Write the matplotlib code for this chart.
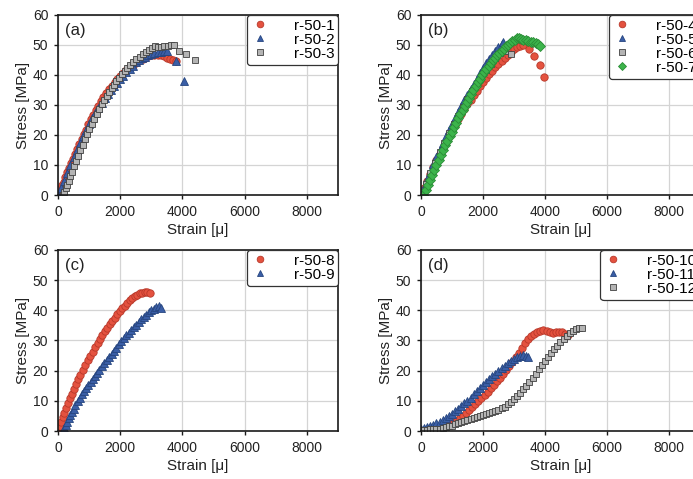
#!/usr/bin/env python3
# -*- coding: utf-8 -*-
"""
Stress-strain curves of r-50 specimens, four panels (a)-(d)
"""

import matplotlib
matplotlib.use('Agg')

import matplotlib.pyplot as plt

WIDTH = 693
HEIGHT = 479
DPI = 100

plt.rcParams['font.family'] = ['Liberation Sans', 'DejaVu Sans']

# ---------------- data (strain in micro-strain, stress in MPa) ----------------
# panel (a)
r50_1_strain = [0, 40, 80, 130, 180, 240, 300, 360, 420, 480, 550, 620, 690, 760, 830, 900,
                980, 1060, 1140, 1220, 1300, 1380, 1460, 1550, 1640, 1730, 1820, 1910, 2000,
                2090, 2180, 2270, 2360, 2450, 2540, 2630, 2720, 2810, 2900, 3000, 3100, 3200,
                3300, 3400, 3500, 3600, 3700, 3800]
r50_1_stress = [0, 1, 2, 3.2, 4.5, 6, 7.5, 9, 10.5, 12, 13.7, 15.3, 17, 18.6, 20.2, 21.8,
                23.5, 25.2, 26.8, 28.3, 29.8, 31.2, 32.5, 33.9, 35.2, 36.4, 37.6, 38.7, 39.7,
                40.6, 41.5, 42.3, 43, 43.7, 44.3, 44.9, 45.4, 45.8, 46.2, 46.5, 46.7, 46.8,
                46.7, 46.3, 45.7, 45.3, 45, 44.6]

r50_2_strain = [0, 100, 200, 300, 400, 500, 600, 700, 800, 900, 1000, 1100, 1200, 1300, 1400,
                1500, 1600, 1700, 1800, 1900, 2000, 2100, 2200, 2300, 2400, 2500, 2600, 2700,
                2800, 2900, 3000, 3100, 3200, 3300, 3400, 3500, 3800, 4050]
r50_2_stress = [0, 2.2, 4.8, 7.4, 10, 12.5, 15, 17.4, 19.6, 21.7, 23.7, 25.6, 27.4, 29.1, 30.7,
                32.2, 33.6, 34.9, 36.2, 37.4, 38.6, 39.8, 41, 42.1, 43.1, 44.2, 44.9, 45.5,
                46.1, 46.6, 47, 47.3, 47.6, 47.8, 48, 48, 44.5, 38]

r50_3_strain = [150, 200, 250, 300, 350, 400, 460, 520, 580, 650, 720, 790, 860, 930, 1000,
                1080, 1160, 1240, 1320, 1400, 1480, 1560, 1640, 1720, 1800, 1880, 1960, 2050,
                2140, 2230, 2320, 2420, 2520, 2620, 2720, 2820, 2920, 3020, 3120, 3220, 3320,
                3420, 3520, 3620, 3720, 3900, 4100, 4400]
r50_3_stress = [0, 1, 2.2, 3.5, 4.8, 6.2, 7.8, 9.5, 11.2, 13, 14.9, 16.7, 18.5, 20.2, 21.9,
                23.7, 25.4, 27.1, 28.7, 30.2, 31.6, 33, 34.3, 35.5, 36.7, 37.9, 39, 40.2,
                41.3, 42.3, 43.3, 44.3, 45.2, 46.1, 46.9, 47.7, 48.4, 49, 49.6, 49.2, 49.4,
                49.6, 49.8, 49.9, 50, 48, 47, 45]

# panel (b)
r50_4_strain = [0, 100, 200, 300, 400, 500, 600, 700, 800, 900, 1000, 1100, 1200, 1300, 1400,
                1500, 1600, 1700, 1800, 1900, 2000, 2100, 2200, 2300, 2400, 2500, 2600, 2700,
                2800, 2900, 3000, 3100, 3200, 3300, 3500, 3650, 3830, 3980]
r50_4_stress = [0, 2.4, 4.8, 7.1, 9.4, 11.6, 13.7, 15.8, 17.8, 19.7, 21.6, 23.4, 25.2, 26.9,
                28.6, 30.2, 31.8, 33.3, 34.8, 36.2, 37.6, 38.9, 40.2, 41.4, 42.6, 43.7, 44.8,
                45.8, 46.8, 47.7, 48.5, 49.2, 49.7, 49.9, 48.7, 46.3, 43.2, 39.4]

r50_5_strain = [0, 100, 200, 300, 400, 500, 600, 700, 800, 900, 1000, 1100, 1200, 1300, 1400,
                1500, 1600, 1700, 1800, 1900, 2000, 2100, 2200, 2300, 2400, 2500, 2600, 2650]
r50_5_stress = [0, 2.6, 5.2, 7.8, 10.3, 12.7, 15, 17.3, 19.5, 21.6, 23.7, 25.7, 27.7, 29.6,
                31.5, 33.4, 35.2, 37, 38.8, 40.6, 42.3, 43.9, 45.4, 46.8, 48.1, 49.3, 50.4, 51]

r50_6_strain = [0, 150, 300, 450, 600, 750, 900, 1050, 1200, 1350, 1500, 1650, 1800, 1950,
                2100, 2250, 2400, 2550, 2700, 2900]
r50_6_stress = [0, 3.6, 7.3, 10.8, 14.2, 17.4, 20.5, 23.5, 26.4, 29.2, 31.9, 34.5, 37, 39.4,
                41.7, 43.8, 45.7, 47.2, 48, 47]

r50_7_strain = [80, 150, 220, 290, 360, 430, 500, 570, 640, 710, 780, 850, 920, 990, 1060,
                1130, 1200, 1270, 1340, 1410, 1480, 1550, 1620, 1690, 1760, 1830, 1900, 1970,
                2040, 2110, 2180, 2250, 2320, 2390, 2460, 2530, 2600, 2670, 2740, 2810, 2880,
                2950, 3020, 3090, 3160, 3230, 3300, 3380, 3460, 3540, 3620, 3700, 3780, 3850]
r50_7_stress = [0, 1.6, 3.3, 5, 6.7, 8.4, 10.1, 11.8, 13.4, 15, 16.6, 18.1, 19.6, 21.1, 22.6,
                24.1, 25.5, 26.9, 28.3, 29.7, 31.1, 32.4, 33.7, 35, 36.3, 37.5, 38.7, 39.9,
                41, 42, 43, 44, 44.9, 45.8, 46.6, 47.4, 48.1, 48.8, 49.5, 50.1, 50.7, 51.2,
                51.8, 52.4, 52.2, 51.9, 51.7, 51.5, 51.3, 51.1, 50.9, 50.6, 50.2, 49.7]

# panel (c)
r50_8_strain = [0, 50, 100, 150, 200, 260, 320, 380, 440, 500, 570, 640, 710, 790, 870, 950,
                1030, 1110, 1190, 1270, 1350, 1430, 1510, 1590, 1670, 1750, 1830, 1910, 1990,
                2070, 2150, 2230, 2310, 2390, 2470, 2550, 2630, 2710, 2790, 2870, 2950]
r50_8_stress = [0, 1.5, 3, 4.5, 6, 7.6, 9.2, 10.8, 12.3, 13.8, 15.5, 17.1, 18.7, 20.3, 21.9,
                23.4, 24.9, 26.3, 27.7, 29.1, 30.4, 31.7, 33, 34.2, 35.4, 36.5, 37.6, 38.7,
                39.7, 40.7, 41.6, 42.5, 43.3, 44, 44.7, 45.2, 45.6, 45.9, 46.1, 46.1, 45.9]

r50_9_strain = [150, 200, 250, 300, 350, 400, 450, 500, 560, 630, 700, 770, 840, 910, 980,
                1050, 1120, 1190, 1260, 1330, 1400, 1480, 1560, 1640, 1720, 1800, 1880, 1960,
                2040, 2120, 2200, 2280, 2360, 2440, 2520, 2600, 2680, 2760, 2840, 2920, 3000,
                3080, 3160, 3240, 3300]
r50_9_stress = [0, 1, 2, 3.1, 4.2, 5.3, 6.3, 7.3, 8.5, 10, 11.1, 12.1, 13.2, 14.2, 15.2,
                16.2, 17.2, 18.3, 19.3, 20.3, 21.4, 22.4, 23.5, 24.5, 25.6, 26.6, 27.6, 28.7,
                29.8, 30.8, 31.7, 32.6, 33.5, 34.4, 35.3, 36.2, 37, 37.8, 38.6, 39.4, 40,
                40.5, 41, 41.3, 40.9]

# panel (d)
r50_10_strain = [850, 950, 1050, 1150, 1250, 1350, 1450, 1550, 1650, 1750, 1850, 1950, 2050,
                 2150, 2250, 2350, 2450, 2550, 2650, 2750, 2850, 2950, 3050, 3150, 3250, 3350,
                 3450, 3550, 3650, 3750, 3850, 3950, 4050, 4150, 4250, 4350, 4450, 4550, 4650,
                 4750]
r50_10_stress = [2, 2.4, 2.9, 3.5, 4.2, 5, 5.9, 6.9, 7.9, 8.9, 9.8, 10.8, 11.9, 13, 14.1,
                 15.3, 16.5, 17.7, 19, 20.2, 21.5, 22.9, 24.4, 26, 27.6, 29.2, 30.5, 31.5,
                 32.3, 32.9, 33.3, 33.5, 33.2, 32.8, 32.6, 32.7, 32.9, 32.7, 32.2, 31.7]

r50_11_strain = [0, 100, 200, 300, 400, 500, 600, 700, 800, 900, 1000, 1100, 1200, 1300, 1400,
                 1500, 1600, 1700, 1800, 1900, 2000, 2100, 2200, 2300, 2400, 2500, 2600, 2700,
                 2800, 2900, 3000, 3100, 3200, 3300, 3400, 3460]
r50_11_stress = [0.8, 1, 1.3, 1.6, 2, 2.5, 3, 3.6, 4.2, 4.9, 5.7, 6.5, 7.4, 8.3, 9.2, 10.1,
                 11.1, 12.1, 13.1, 14.1, 15.1, 16.1, 17.1, 18.1, 19, 19.9, 20.8, 21.7, 22.5,
                 23.2, 23.9, 24.5, 24.9, 25.1, 24.9, 24.6]

r50_12_strain = [0, 100, 200, 300, 400, 500, 600, 700, 800, 900, 1000, 1100, 1200, 1300, 1400,
                 1500, 1600, 1700, 1800, 1900, 2000, 2100, 2200, 2300, 2400, 2500, 2600, 2700,
                 2800, 2900, 3000, 3100, 3200, 3300, 3400, 3500, 3600, 3700, 3800, 3900, 4000,
                 4100, 4200, 4300, 4400, 4500, 4600, 4700, 4800, 4900, 5000, 5100, 5200]
r50_12_stress = [0.3, 0.3, 0.4, 0.5, 0.6, 0.7, 0.8, 1, 1.2, 1.5, 1.8, 2.2, 2.6, 3, 3.4, 3.8,
                 4.1, 4.4, 4.7, 5, 5.3, 5.6, 5.9, 6.2, 6.6, 7, 7.5, 8.1, 8.8, 9.6, 10.5, 11.5,
                 12.6, 13.8, 15, 16.3, 17.6, 19, 20.4, 21.8, 23.2, 24.5, 25.8, 27.1, 28.3,
                 29.5, 30.6, 31.6, 32.5, 33.3, 33.9, 34.3, 34]

# ---------------- marker styles ----------------
STYLE = {
    'red':   dict(marker='o', ms=5.3, mfc='#e4523f', mec='#b8382a'),
    'blue':  dict(marker='^', ms=5.3, mfc='#3a5ea6', mec='#26457f'),
    'grey':  dict(marker='s', ms=4.6, mfc='#b4b4b4', mec='#404040'),
    'green': dict(marker='D', ms=4.6, mfc='#3cb44b', mec='#2a8c36'),
}

PANELS = [
    ('(a)', [0.0837, 0.5929, 0.4040, 0.3758],
     [(r50_1_strain, r50_1_stress, 'r-50-1', 'red'),
      (r50_2_strain, r50_2_stress, 'r-50-2', 'blue'),
      (r50_3_strain, r50_3_stress, 'r-50-3', 'grey')]),
    ('(b)', [0.6075, 0.5929, 0.4026, 0.3758],
     [(r50_4_strain, r50_4_stress, 'r-50-4', 'red'),
      (r50_5_strain, r50_5_stress, 'r-50-5', 'blue'),
      (r50_6_strain, r50_6_stress, 'r-50-6', 'grey'),
      (r50_7_strain, r50_7_stress, 'r-50-7', 'green')]),
    ('(c)', [0.0837, 0.1002, 0.4040, 0.3779],
     [(r50_8_strain, r50_8_stress, 'r-50-8', 'red'),
      (r50_9_strain, r50_9_stress, 'r-50-9', 'blue')]),
    ('(d)', [0.6075, 0.1002, 0.4026, 0.3779],
     [(r50_10_strain, r50_10_stress, 'r-50-10', 'red'),
      (r50_11_strain, r50_11_stress, 'r-50-11', 'blue'),
      (r50_12_strain, r50_12_stress, 'r-50-12', 'grey')]),
]


def draw_panel(fig, tag, rect, series):
    ax = fig.add_axes(rect)
    for x, y, label, color in series:
        st = STYLE[color]
        ax.plot(x, y, linestyle='none', marker=st['marker'], ms=st['ms'],
                mfc=st['mfc'], mec=st['mec'], mew=0.6, label=label)

    ax.set_xlim(0, 9000)
    ax.set_ylim(0, 60)
    ax.set_xticks([0, 2000, 4000, 6000, 8000])
    ax.set_yticks([0, 10, 20, 30, 40, 50, 60])
    ax.grid(True, color='#d4d4d4', linewidth=0.9)
    ax.set_axisbelow(True)
    for sp in ax.spines.values():
        sp.set_color('#1a1a1a')
        sp.set_linewidth(1.2)
    ax.tick_params(direction='out', length=3, width=1, color='#1a1a1a',
                   labelsize=10, pad=4, labelcolor='#222222')

    ax.set_xlabel('Strain [\u03bc]', fontsize=11, labelpad=3, color='#222222')
    ax.set_ylabel('Stress [MPa]', fontsize=11, labelpad=2, color='#222222')

    ax.text(0.025, 0.955, tag, transform=ax.transAxes, fontsize=12,
            ha='left', va='top', color='#222222')

    leg = ax.legend(loc='upper right', fontsize=11,
                    handlelength=1.2, handletextpad=1.6, labelspacing=0.0,
                    borderpad=0.25, borderaxespad=0, fancybox=True, framealpha=1,
                    markerscale=0.9)
    leg.get_frame().set_edgecolor('#333333')
    leg.get_frame().set_linewidth(0.9)
    return ax


def create_figure():
    fig = plt.figure(figsize=(WIDTH / DPI, HEIGHT / DPI), dpi=DPI)
    fig.patch.set_facecolor('white')
    for tag, rect, series in PANELS:
        draw_panel(fig, tag, rect, series)
    fig.savefig('out.png', dpi=DPI, facecolor='white')
    plt.close(fig)


if __name__ == '__main__':
    create_figure()
